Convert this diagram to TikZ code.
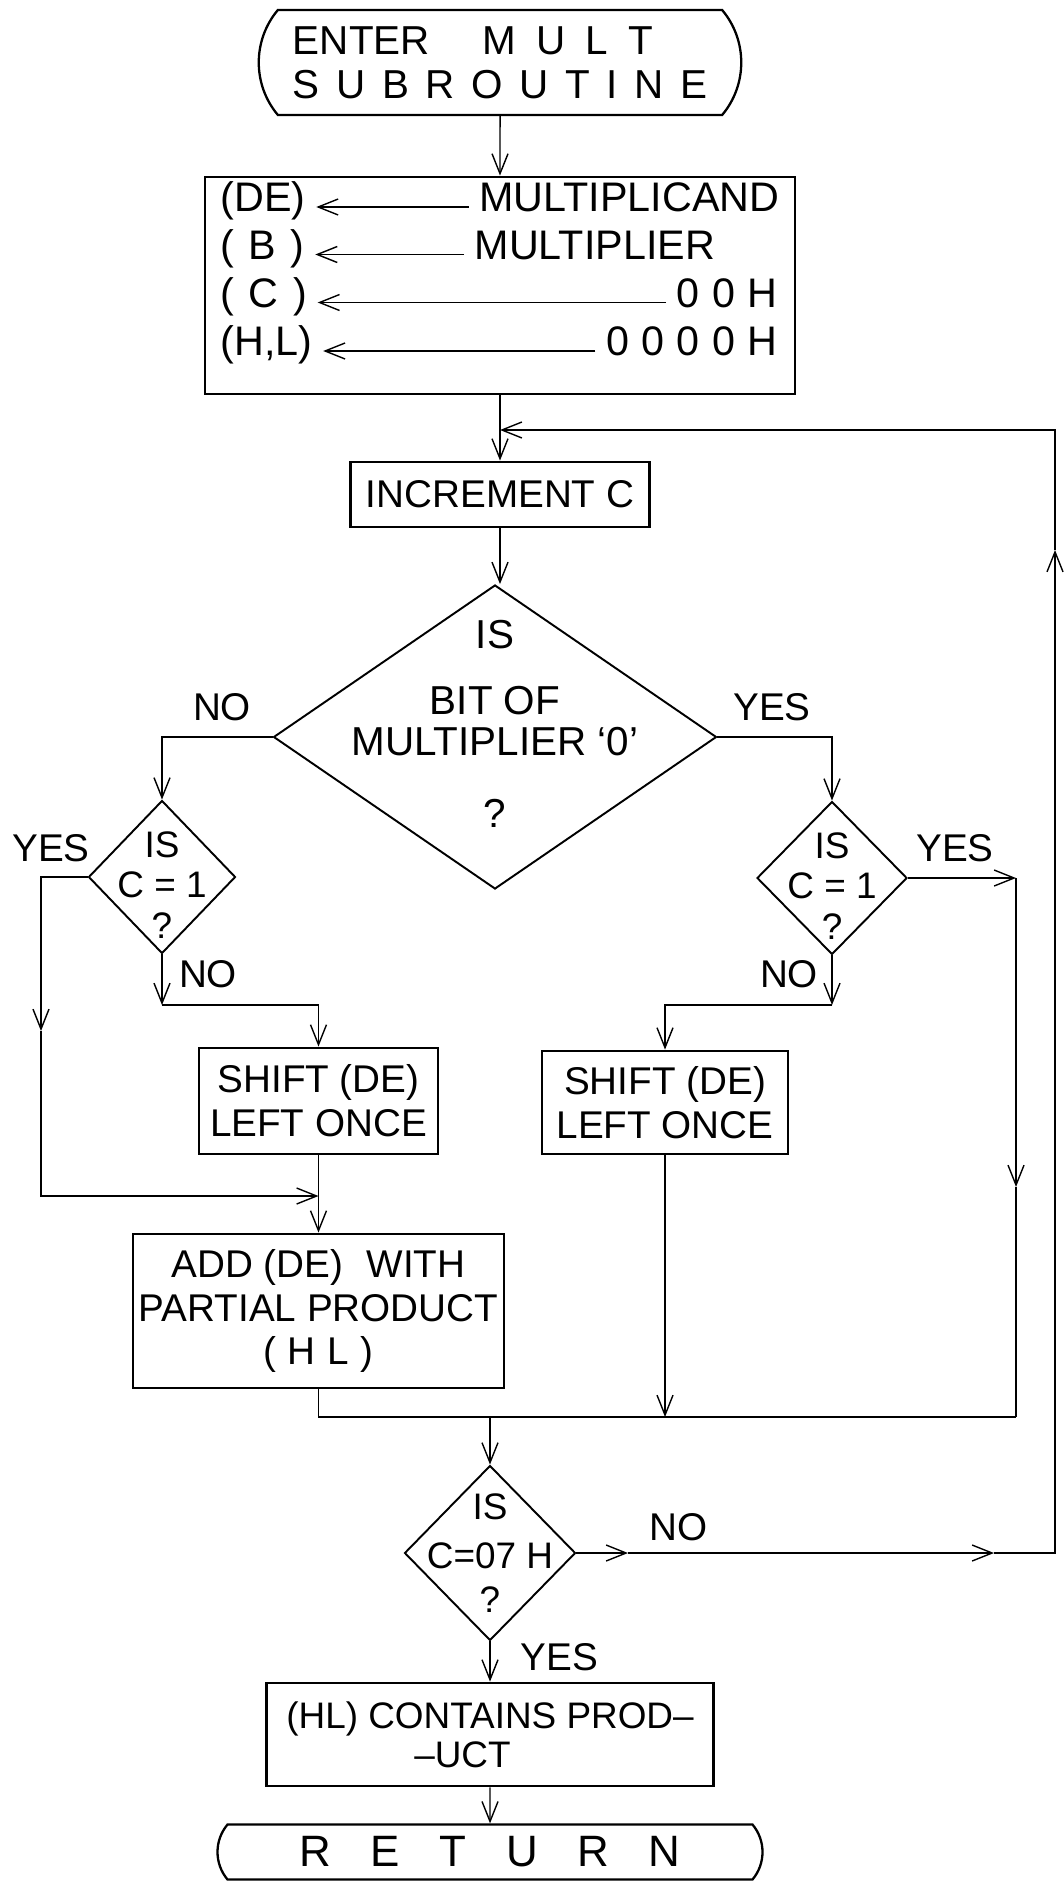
\documentclass[tikz,border=0pt]{standalone}
\usepackage{fontspec}
\setmainfont{Liberation Sans}
\usetikzlibrary{shapes.geometric,shapes.misc,arrows.meta}
\newcommand{\lsp}{\hspace{0.3em}}
\newcommand{\wsp}{\hspace{0.41em}}
\newcommand{\rsp}{\hspace{0.9em}}
\begin{document}
\begin{tikzpicture}[
    >={Straight Barb[length=0.4cm,width=0.32cm]},
    line width=0.8pt,
    every node/.style={font=\fontsize{22}{25}\selectfont},
    box/.style={draw, rectangle, line width=1.6pt, inner sep=0pt, align=center},
    term/.style={draw, rounded rectangle, rounded rectangle arc length=80,
        line width=1.3pt, inner sep=0pt},
    decision/.style={draw, diamond, line width=1.1pt, inner sep=0pt},
    qtext/.style={align=center, inner sep=0pt},
    row/.style={inner xsep=0.2cm, inner ysep=0pt, text height=0.75em, text depth=0.2em,
        font=\fontsize{23.5}{28}\selectfont},
    reg/.style={row, anchor=west, minimum width=2cm},
  ]
    \useasboundingbox (0,0) rectangle (21.28,-37.68);
    % Entry and initialisation
    \node[term, minimum width=9.65cm, minimum height=2.1cm, align=left,
        font=\fontsize{23}{25}\selectfont] (start) at (10,-1.25)
        {ENTER\hspace{1.3em}M\hspace{0.5em}U\hspace{0.5em}L\hspace{0.5em}T\\S\wsp U\wsp B\wsp R\wsp O\wsp U\wsp T\wsp I\wsp N\wsp E};
    \node[box, minimum width=11.8cm, minimum height=4.34cm] (init) at (10,-5.71) {};
    \node[reg] (de) at (4.2,-4.14) {(DE)};
    \node[reg] (b) at (4.2,-5.09) {(\hspace{0.35em}B\hspace{0.35em})};
    \node[reg] (c) at (4.2,-6.05) {(\hspace{0.35em}C\hspace{0.35em})};
    \node[reg] (hlreg) at (4.2,-7.02) {(H,L)};
    \node[row, anchor=east] (mcand) at (15.8,-4.14) {MULTIPLICAND};
    \node[row, anchor=west] (mplier) at (9.28,-5.09) {MULTIPLIER};
    \node[row, anchor=east] (zc) at (15.76,-6.05) {0\lsp 0\lsp H};
    \node[row, anchor=east] (zhl) at (15.76,-7.02) {0\lsp 0\lsp 0\lsp 0\lsp H};
    \draw[->] (mcand.west) -- (de.east);
    \draw[->] (mplier.west) -- (b.east);
    \draw[->] (zc.west) -- (c.east);
    \draw[->] (zhl.west) -- (hlreg.east);
    % Loop body
    \node[box, minimum width=5.98cm, minimum height=1.3cm] (incr) at (10,-9.89) {INCREMENT C};
    \node[decision, minimum width=8.86cm, minimum height=6.08cm] (bit) at (9.9,-14.74) {};
    \node[qtext, font=\fontsize{23}{23.3}\selectfont] (bittxt) at (9.9,-14.47)
        {IS\\[0.5cm]BIT OF\\MULTIPLIER `0'\\[0.62cm]?};
    \node[decision, minimum width=2.94cm, minimum height=3.06cm] (ldec) at (3.24,-17.54) {};
    \node[qtext, font=\fontsize{21}{23}\selectfont] (ldectxt) at (3.24,-17.7) {IS\\C = 1\\?};
    \node[decision, minimum width=3cm, minimum height=3.06cm] (rdec) at (16.64,-17.56) {};
    \node[qtext, font=\fontsize{21}{23}\selectfont] (rdectxt) at (16.64,-17.72) {IS\\C = 1\\?};
    \node[box, minimum width=4.78cm, minimum height=2.12cm] (lshift) at (6.37,-22.02)
        {SHIFT (DE)\\LEFT ONCE};
    \node[box, minimum width=4.92cm, minimum height=2.06cm] (rshift) at (13.3,-22.05)
        {SHIFT (DE)\\LEFT ONCE};
    \node[box, minimum width=7.42cm, minimum height=3.08cm] (add) at (6.37,-26.22)
        {ADD (DE)\hspace{0.6em}WITH\\PARTIAL PRODUCT\\(\lsp H\lsp L\lsp)};
    % Exit test
    \node[decision, minimum width=3.42cm, minimum height=3.5cm] (chk) at (9.8,-31.06) {};
    \node[qtext, font=\fontsize{21}{25}\selectfont] (chktxt) at (9.8,-31.06) {IS\\[0.1cm]C=07 H\\?};
    \node[box, minimum width=8.94cm, minimum height=2.06cm, font=\fontsize{21}{22}\selectfont]
        (hl) at (9.8,-34.69) {(HL) CONTAINS PROD--\\--UCT\hspace*{1.1cm}};
    \node[term, minimum width=10.9cm, minimum height=1.1cm, font=\fontsize{25}{28}\selectfont]
        (ret) at (9.8,-37.04) {R\rsp E\rsp T\rsp U\rsp R\rsp N};
    % Branch labels
    \node (no1) at (4.44,-14.14) {NO};
    \node (yes1) at (15.44,-14.14) {YES};
    \node (yes2) at (1.02,-16.96) {YES};
    \node (no2) at (4.16,-19.48) {NO};
    \node (yes3) at (19.1,-16.96) {YES};
    \node (no3) at (15.78,-19.48) {NO};
    \node (no4) at (13.57,-30.55) {NO};
    \node (yes4) at (11.19,-33.15) {YES};
    % Corners of the connectors
    \coordinate (loopin) at (10,-8.6);
    \coordinate (lmid) at (0.82,-20.62);
    \coordinate (ljoin) at (6.37,-23.92);
    \coordinate (lno) at (3.24,-20.1);
    \coordinate (rno) at (16.64,-20.1);
    \coordinate (ryes) at (20.32,-17.56);
    \coordinate (rmid) at (20.32,-23.74);
    \coordinate (rcorner) at (20.32,-28.34);
    \coordinate (merge) at (9.8,-28.34);
    \coordinate (cno1) at (12.56,-31.06);
    \coordinate (cno2) at (19.88,-31.06);
    \coordinate (rup) at (21.1,-11.0);
    % Main flow
    \draw[->] (start) -- (init);
    \draw[->] (init) -- (incr);
    \draw[->] (incr.south) -- (incr.south |- bit.north);
    \draw[->] (bit.west) -| (ldec.north);
    \draw[->] (bit.east) -| (rdec.north);
    % Left branch
    \draw[->] (ldec.west) -| (lmid);
    \draw[->] (lmid) |- (ljoin);
    \draw[->] (ldec.south) -- (lno);
    \draw[->] (lno) -| (lshift.north);
    \draw[->] (lshift) -- (add);
    \draw (add.south) |- (rcorner);
    % Right branch
    \draw[->] (rdec.south) -- (rno);
    \draw[->] (rno) -| (rshift.north);
    \draw[->] (rshift.south) -- (rshift.south |- rcorner);
    \draw[->] (rdec.east) -- (ryes);
    \draw[->] (ryes) -- (rmid);
    \draw (rmid) -- (rcorner);
    % Test and loop back
    \draw[->] (merge) -- (chk);
    \draw[->] (chk.east) -- (cno1);
    \draw[->] (cno1) -- (cno2);
    \draw[->] (cno2) -| (rup);
    \draw[->] (rup) |- (loopin);
    \draw[->] (chk) -- (hl);
    \draw[->] (hl) -- (ret);
\end{tikzpicture}
\end{document}
